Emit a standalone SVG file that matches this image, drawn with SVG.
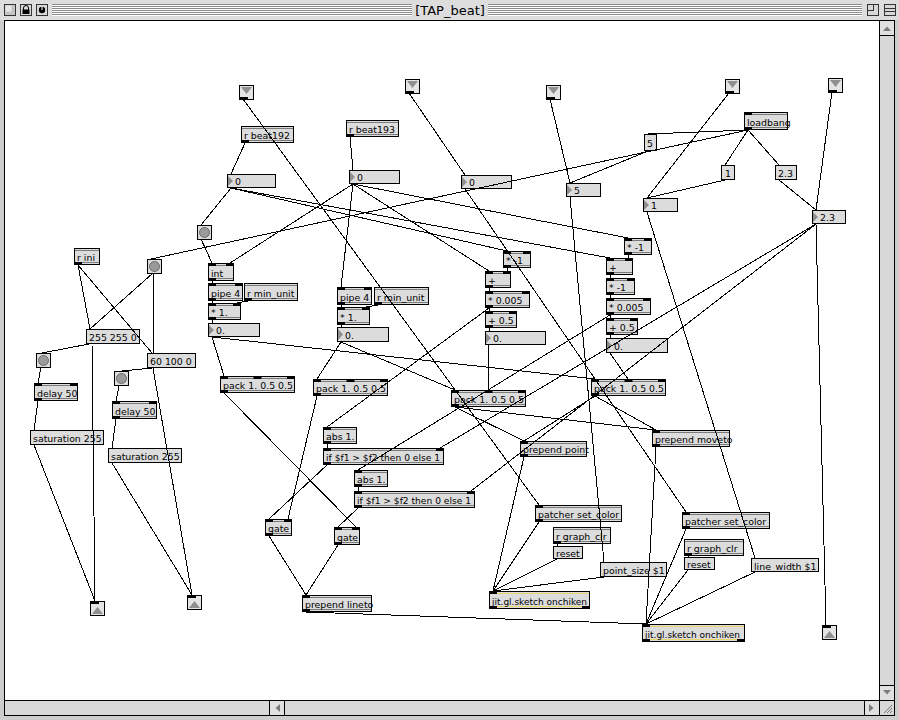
<svg xmlns="http://www.w3.org/2000/svg" width="899" height="720" viewBox="0 0 899 720">
<style>
.b{fill:#dcdcdc;stroke:#000;stroke-width:1}
.ib{fill:#e4e4e4;stroke:#000;stroke-width:1}
.il{stroke:#7a7a7a;stroke-width:1;fill:none}
.jl{stroke:#e8d46c;stroke-width:1;fill:none}
.io{fill:#000}
.tri{fill:#8f8f8f}
.bc{fill:#9a9a9a;stroke:#6a6a6a;stroke-width:1}
.t{font-family:"DejaVu Sans",Verdana,sans-serif;font-size:9.4px;fill:#000}
.w line{stroke:#000;stroke-width:1;shape-rendering:crispEdges}
.st{stroke:#8a8a8a;stroke-width:1}
.sw{stroke:#ffffff;stroke-width:1}
.sb{fill:#d8d8d8;stroke:#000;stroke-width:1}
.ar{fill:#7a7a7a}
</style>
<g id="window">
<rect x="0" y="0" width="899" height="720" fill="#cdcdcd"/>
<rect x="0" y="0" width="899" height="20" fill="#dddddd"/>
<g>
<path class="st" d="M52 4.5H412M52 6.5H412M52 8.5H412M52 10.5H412M52 12.5H412M52 14.5H412M488 4.5H862M488 6.5H862M488 8.5H862M488 10.5H862M488 12.5H862M488 14.5H862"/>
<path class="sw" d="M52 5.5H412M52 7.5H412M52 9.5H412M52 11.5H412M52 13.5H412M52 15.5H412M488 5.5H862M488 7.5H862M488 9.5H862M488 11.5H862M488 13.5H862M488 15.5H862"/>
</g>
<text x="450" y="14.5" text-anchor="middle" font-family="DejaVu Sans, sans-serif" font-size="13px">[TAP_beat]</text>
<rect x="4.5" y="4.5" width="11" height="11" fill="#c4c4c4" stroke="#333"/>
<rect x="5.5" y="5.5" width="6" height="6" fill="#e6e6e6"/>
<rect x="20.5" y="4.5" width="11" height="11" fill="#d8d8d8" stroke="#333"/>
<path d="M23.5 10V8A2.5 2.5 0 0 1 28.5 8V10" fill="none" stroke="#000"/>
<rect x="22.5" y="9.5" width="7" height="4.5" fill="#000"/>
<rect x="36.5" y="4.5" width="11" height="11" fill="#d8d8d8" stroke="#333"/>
<circle cx="42" cy="10" r="3.2" fill="#000"/>
<rect x="41.4" y="6" width="1.2" height="4" fill="#ddd"/>
<rect x="867.5" y="4.5" width="11" height="11" fill="#d8d8d8" stroke="#333"/>
<rect x="867.5" y="4.5" width="6" height="6" fill="none" stroke="#333"/>
<rect x="884.5" y="4.5" width="11" height="11" fill="#d8d8d8" stroke="#333"/>
<path d="M885 8.5H895M885 11.5H895" stroke="#333"/>
<rect x="4.5" y="20.5" width="875" height="680" fill="#ffffff" stroke="#000"/>
<rect class="sb" x="879.5" y="20.5" width="15" height="680"/>
<rect x="879.5" y="20.5" width="15" height="15" fill="#e0e0e0" stroke="#000"/>
<path class="ar" d="M883 31H891L887 26.5Z"/>
<rect x="879.5" y="685.5" width="15" height="15" fill="#e0e0e0" stroke="#000"/>
<path class="ar" d="M883 690H891L887 694.5Z"/>
<rect class="sb" x="4.5" y="700.5" width="875" height="15"/>
<rect x="269.5" y="700.5" width="15" height="15" fill="#e0e0e0" stroke="#000"/>
<path class="ar" d="M280 704V712L275.5 708Z"/>
<rect x="864.5" y="700.5" width="15" height="15" fill="#e0e0e0" stroke="#000"/>
<path class="ar" d="M869 704V712L873.5 708Z"/>
<rect x="879.5" y="700.5" width="15" height="15" fill="#d8d8d8" stroke="#000"/>
<path d="M884 713L892 705M887 713L892 708M890 713L892 711" stroke="#777"/>
</g>
<g id="nodes">
<g id="in1"><rect class="ib" x="239.5" y="85.5" width="14" height="14"/><path class="tri" d="M241 87H252L246.5 94Z"/><rect class="io" x="240" y="97" width="8" height="3"/></g>
<g id="in2"><rect class="ib" x="405.5" y="79.5" width="14" height="14"/><path class="tri" d="M407 81H418L412.5 88Z"/><rect class="io" x="406" y="91" width="8" height="3"/></g>
<g id="in3"><rect class="ib" x="546.5" y="85.5" width="14" height="14"/><path class="tri" d="M548 87H559L553.5 94Z"/><rect class="io" x="547" y="97" width="8" height="3"/></g>
<g id="in4"><rect class="ib" x="725.5" y="79.5" width="14" height="14"/><path class="tri" d="M727 81H738L732.5 88Z"/><rect class="io" x="726" y="91" width="8" height="3"/></g>
<g id="in5"><rect class="ib" x="828.5" y="78.5" width="14" height="14"/><path class="tri" d="M830 80H841L835.5 87Z"/><rect class="io" x="829" y="90" width="8" height="3"/></g>
<g id="out1"><rect class="ib" x="90.5" y="601.5" width="14" height="14"/><path class="tri" d="M92 614H103L97.5 607Z"/><rect class="io" x="91" y="602" width="8" height="2"/></g>
<g id="out2"><rect class="ib" x="187.5" y="595.5" width="14" height="14"/><path class="tri" d="M189 608H200L194.5 601Z"/><rect class="io" x="188" y="596" width="8" height="2"/></g>
<g id="out3"><rect class="ib" x="822.5" y="625.5" width="14" height="14"/><path class="tri" d="M824 638H835L829.5 631Z"/><rect class="io" x="823" y="626" width="8" height="2"/></g>
<g id="btn1"><rect class="b" x="197.5" y="225.5" width="14" height="14"/><circle class="bc" cx="204.5" cy="232.5" r="5"/></g>
<g id="btn2"><rect class="b" x="147.5" y="259.5" width="14" height="14"/><circle class="bc" cx="154.5" cy="266.5" r="5"/></g>
<g id="btn3"><rect class="b" x="36.5" y="353.5" width="14" height="14"/><circle class="bc" cx="43.5" cy="360.5" r="5"/></g>
<g id="btn4"><rect class="b" x="114.5" y="371.5" width="14" height="14"/><circle class="bc" cx="121.5" cy="378.5" r="5"/></g>
<g id="rbeat192"><rect class="b" x="241.5" y="126.5" width="52" height="16"/><path class="il" d="M242 128.5H293M242 140.5H293"/><rect class="io" x="241" y="140" width="8" height="3"/><text class="t" x="244" y="138.5">r beat192</text></g>
<g id="rbeat193"><rect class="b" x="346.5" y="120.5" width="52" height="16"/><path class="il" d="M347 122.5H398M347 134.5H398"/><rect class="io" x="346" y="134" width="8" height="3"/><text class="t" x="349" y="132.5">r beat193</text></g>
<g id="loadbang"><rect class="b" x="744.5" y="112.5" width="43" height="17"/><path class="il" d="M745 114.5H787M745 127.5H787"/><rect class="io" x="744" y="112" width="8" height="3"/><rect class="io" x="744" y="127" width="8" height="3"/><text class="t" x="747" y="125.5">loadbang</text></g>
<g id="rini"><rect class="b" x="74.5" y="248.5" width="25" height="16"/><path class="il" d="M75 250.5H99M75 262.5H99"/><rect class="io" x="74" y="262" width="8" height="3"/><text class="t" x="77" y="260.5">r ini</text></g>
<g id="delayL"><rect class="b" x="34.5" y="383.5" width="43" height="17"/><path class="il" d="M35 385.5H77M35 398.5H77"/><rect class="io" x="34" y="383" width="8" height="3"/><rect class="io" x="70" y="383" width="8" height="3"/><rect class="io" x="34" y="398" width="8" height="3"/><text class="t" x="37" y="396.5">delay 50</text></g>
<g id="delayR"><rect class="b" x="112.5" y="401.5" width="44" height="17"/><path class="il" d="M113 403.5H156M113 416.5H156"/><rect class="io" x="112" y="401" width="8" height="3"/><rect class="io" x="149" y="401" width="8" height="3"/><rect class="io" x="112" y="416" width="8" height="3"/><text class="t" x="115" y="414.5">delay 50</text></g>
<g id="int"><rect class="b" x="208.5" y="263.5" width="25" height="17"/><path class="il" d="M209 265.5H233M209 278.5H233"/><rect class="io" x="208" y="263" width="8" height="3"/><rect class="io" x="226" y="263" width="8" height="3"/><rect class="io" x="208" y="278" width="8" height="3"/><text class="t" x="211" y="276.5">int</text></g>
<g id="pipeL"><rect class="b" x="208.5" y="283.5" width="34" height="17"/><path class="il" d="M209 285.5H242M209 298.5H242"/><rect class="io" x="208" y="283" width="8" height="3"/><rect class="io" x="235" y="283" width="8" height="3"/><rect class="io" x="208" y="298" width="8" height="3"/><text class="t" x="211" y="296.5">pipe 4</text></g>
<g id="rminL"><rect class="b" x="244.5" y="283.5" width="53" height="17"/><path class="il" d="M245 285.5H297M245 298.5H297"/><rect class="io" x="244" y="298" width="8" height="3"/><text class="t" x="247" y="296.5">r min_unit</text></g>
<g id="mulL"><rect class="b" x="208.5" y="303.5" width="32" height="16"/><path class="il" d="M209 305.5H240M209 317.5H240"/><rect class="io" x="208" y="303" width="8" height="3"/><rect class="io" x="233" y="303" width="8" height="3"/><rect class="io" x="208" y="317" width="8" height="3"/><text class="t" x="211" y="315.5">* 1.</text></g>
<g id="pipeR"><rect class="b" x="337.5" y="287.5" width="34" height="17"/><path class="il" d="M338 289.5H371M338 302.5H371"/><rect class="io" x="337" y="287" width="8" height="3"/><rect class="io" x="364" y="287" width="8" height="3"/><rect class="io" x="337" y="302" width="8" height="3"/><text class="t" x="340" y="300.5">pipe 4</text></g>
<g id="rminR"><rect class="b" x="374.5" y="287.5" width="54" height="17"/><path class="il" d="M375 289.5H428M375 302.5H428"/><rect class="io" x="374" y="302" width="8" height="3"/><text class="t" x="377" y="300.5">r min_unit</text></g>
<g id="mulR"><rect class="b" x="337.5" y="307.5" width="32" height="17"/><path class="il" d="M338 309.5H369M338 322.5H369"/><rect class="io" x="337" y="307" width="8" height="3"/><rect class="io" x="362" y="307" width="8" height="3"/><rect class="io" x="337" y="322" width="8" height="3"/><text class="t" x="340" y="320.5">* 1.</text></g>
<g id="packL"><rect class="b" x="220.5" y="376.5" width="74" height="16"/><path class="il" d="M221 378.5H294M221 390.5H294"/><rect class="io" x="220" y="376" width="8" height="3"/><rect class="io" x="253.5" y="376" width="8" height="3"/><rect class="io" x="287" y="376" width="8" height="3"/><rect class="io" x="220" y="390" width="8" height="3"/><text class="t" x="223" y="388.5">pack 1. 0.5 0.5</text></g>
<g id="pack2"><rect class="b" x="313.5" y="379.5" width="74" height="16"/><path class="il" d="M314 381.5H387M314 393.5H387"/><rect class="io" x="313" y="379" width="8" height="3"/><rect class="io" x="346.5" y="379" width="8" height="3"/><rect class="io" x="380" y="379" width="8" height="3"/><rect class="io" x="313" y="393" width="8" height="3"/><text class="t" x="316" y="391.5">pack 1. 0.5 0.5</text></g>
<g id="packC"><rect class="b" x="451.5" y="390.5" width="74" height="16"/><path class="il" d="M452 392.5H525M452 404.5H525"/><rect class="io" x="451" y="390" width="8" height="3"/><rect class="io" x="484.5" y="390" width="8" height="3"/><rect class="io" x="518" y="390" width="8" height="3"/><rect class="io" x="451" y="404" width="8" height="3"/><text class="t" x="454" y="402.5">pack 1. 0.5 0.5</text></g>
<g id="pack4"><rect class="b" x="591.5" y="379.5" width="74" height="16"/><path class="il" d="M592 381.5H665M592 393.5H665"/><rect class="io" x="591" y="379" width="8" height="3"/><rect class="io" x="624.5" y="379" width="8" height="3"/><rect class="io" x="658" y="379" width="8" height="3"/><rect class="io" x="591" y="393" width="8" height="3"/><text class="t" x="594" y="391.5">pack 1. 0.5 0.5</text></g>
<g id="negC"><rect class="b" x="503.5" y="251.5" width="27" height="16"/><path class="il" d="M504 253.5H530M504 265.5H530"/><rect class="io" x="503" y="251" width="8" height="3"/><rect class="io" x="523" y="251" width="8" height="3"/><rect class="io" x="503" y="265" width="8" height="3"/><text class="t" x="506" y="263.5">* -1</text></g>
<g id="addC"><rect class="b" x="485.5" y="271.5" width="25" height="16"/><path class="il" d="M486 273.5H510M486 285.5H510"/><rect class="io" x="485" y="271" width="8" height="3"/><rect class="io" x="503" y="271" width="8" height="3"/><rect class="io" x="485" y="285" width="8" height="3"/><text class="t" x="488" y="283.5">+</text></g>
<g id="scaleC"><rect class="b" x="485.5" y="291.5" width="44" height="16"/><path class="il" d="M486 293.5H529M486 305.5H529"/><rect class="io" x="485" y="291" width="8" height="3"/><rect class="io" x="522" y="291" width="8" height="3"/><rect class="io" x="485" y="305" width="8" height="3"/><text class="t" x="488" y="303.5">* 0.005</text></g>
<g id="offC"><rect class="b" x="485.5" y="311.5" width="31" height="16"/><path class="il" d="M486 313.5H516M486 325.5H516"/><rect class="io" x="485" y="311" width="8" height="3"/><rect class="io" x="509" y="311" width="8" height="3"/><rect class="io" x="485" y="325" width="8" height="3"/><text class="t" x="488" y="323.5">+ 0.5</text></g>
<g id="negR"><rect class="b" x="624.5" y="238.5" width="27" height="16"/><path class="il" d="M625 240.5H651M625 252.5H651"/><rect class="io" x="624" y="238" width="8" height="3"/><rect class="io" x="644" y="238" width="8" height="3"/><rect class="io" x="624" y="252" width="8" height="3"/><text class="t" x="627" y="250.5">* -1</text></g>
<g id="addR"><rect class="b" x="606.5" y="258.5" width="26" height="16"/><path class="il" d="M607 260.5H632M607 272.5H632"/><rect class="io" x="606" y="258" width="8" height="3"/><rect class="io" x="625" y="258" width="8" height="3"/><rect class="io" x="606" y="272" width="8" height="3"/><text class="t" x="609" y="270.5">+</text></g>
<g id="negR2"><rect class="b" x="606.5" y="278.5" width="28" height="16"/><path class="il" d="M607 280.5H634M607 292.5H634"/><rect class="io" x="606" y="278" width="8" height="3"/><rect class="io" x="627" y="278" width="8" height="3"/><rect class="io" x="606" y="292" width="8" height="3"/><text class="t" x="609" y="290.5">* -1</text></g>
<g id="scaleR"><rect class="b" x="606.5" y="298.5" width="44" height="16"/><path class="il" d="M607 300.5H650M607 312.5H650"/><rect class="io" x="606" y="298" width="8" height="3"/><rect class="io" x="643" y="298" width="8" height="3"/><rect class="io" x="606" y="312" width="8" height="3"/><text class="t" x="609" y="310.5">* 0.005</text></g>
<g id="offR"><rect class="b" x="606.5" y="318.5" width="31" height="16"/><path class="il" d="M607 320.5H637M607 332.5H637"/><rect class="io" x="606" y="318" width="8" height="3"/><rect class="io" x="630" y="318" width="8" height="3"/><rect class="io" x="606" y="332" width="8" height="3"/><text class="t" x="609" y="330.5">+ 0.5</text></g>
<g id="moveto"><rect class="b" x="652.5" y="430.5" width="77" height="16"/><path class="il" d="M653 432.5H729M653 444.5H729"/><rect class="io" x="652" y="430" width="8" height="3"/><rect class="io" x="652" y="444" width="8" height="3"/><text class="t" x="655" y="442.5">prepend moveto</text></g>
<g id="ppoint"><rect class="b" x="520.5" y="441.5" width="66" height="15"/><path class="il" d="M521 443.5H586M521 454.5H586"/><rect class="io" x="520" y="441" width="8" height="3"/><rect class="io" x="520" y="454" width="8" height="3"/><text class="t" x="523" y="452.5">prepend point</text></g>
<g id="absA"><rect class="b" x="323.5" y="427.5" width="33" height="16"/><path class="il" d="M324 429.5H356M324 441.5H356"/><rect class="io" x="323" y="427" width="8" height="3"/><rect class="io" x="323" y="441" width="8" height="3"/><text class="t" x="326" y="439.5">abs 1.</text></g>
<g id="ifA"><rect class="b" x="323.5" y="448.5" width="120" height="16"/><path class="il" d="M324 450.5H443M324 462.5H443"/><rect class="io" x="323" y="448" width="8" height="3"/><rect class="io" x="436" y="448" width="8" height="3"/><rect class="io" x="323" y="462" width="8" height="3"/><text class="t" x="326" y="460.5" textLength="114" lengthAdjust="spacingAndGlyphs">if $f1 &gt; $f2 then 0 else 1</text></g>
<g id="absB"><rect class="b" x="354.5" y="470.5" width="33" height="16"/><path class="il" d="M355 472.5H387M355 484.5H387"/><rect class="io" x="354" y="470" width="8" height="3"/><rect class="io" x="354" y="484" width="8" height="3"/><text class="t" x="357" y="482.5">abs 1.</text></g>
<g id="ifB"><rect class="b" x="354.5" y="491.5" width="120" height="16"/><path class="il" d="M355 493.5H474M355 505.5H474"/><rect class="io" x="354" y="491" width="8" height="3"/><rect class="io" x="467" y="491" width="8" height="3"/><rect class="io" x="354" y="505" width="8" height="3"/><text class="t" x="357" y="503.5" textLength="114" lengthAdjust="spacingAndGlyphs">if $f1 &gt; $f2 then 0 else 1</text></g>
<g id="gateL"><rect class="b" x="265.5" y="519.5" width="26" height="16"/><path class="il" d="M266 521.5H291M266 533.5H291"/><rect class="io" x="265" y="519" width="8" height="3"/><rect class="io" x="284" y="519" width="8" height="3"/><rect class="io" x="265" y="533" width="8" height="3"/><text class="t" x="268" y="531.5">gate</text></g>
<g id="gateR"><rect class="b" x="334.5" y="527.5" width="25" height="17"/><path class="il" d="M335 529.5H359M335 542.5H359"/><rect class="io" x="334" y="527" width="8" height="3"/><rect class="io" x="352" y="527" width="8" height="3"/><rect class="io" x="334" y="542" width="8" height="3"/><text class="t" x="337" y="540.5">gate</text></g>
<g id="lineto"><rect class="b" x="302.5" y="595.5" width="69" height="16"/><path class="il" d="M303 597.5H371M303 609.5H371"/><rect class="io" x="302" y="595" width="8" height="3"/><rect class="io" x="302" y="609" width="8" height="3"/><text class="t" x="305" y="607.5">prepend lineto</text></g>
<g id="patchL"><rect class="b" x="535.5" y="505.5" width="86" height="16"/><path class="il" d="M536 507.5H621M536 519.5H621"/><rect class="io" x="535" y="505" width="8" height="3"/><rect class="io" x="535" y="519" width="8" height="3"/><text class="t" x="538" y="517.5">patcher set_color</text></g>
<g id="rgcL"><rect class="b" x="553.5" y="527.5" width="57" height="16"/><path class="il" d="M554 529.5H610M554 541.5H610"/><rect class="io" x="553" y="541" width="8" height="3"/><text class="t" x="556" y="539.5">r graph_clr</text></g>
<g id="jitL"><rect class="b" x="489.5" y="591.5" width="100" height="17"/><path class="jl" d="M490 593.5H589M490 606.5H589"/><rect class="io" x="489" y="591" width="8" height="3"/><rect class="io" x="489" y="606" width="8" height="3"/><rect class="io" x="582" y="606" width="8" height="3"/><text class="t" x="492" y="604.5" textLength="95" lengthAdjust="spacingAndGlyphs">jit.gl.sketch onchiken</text></g>
<g id="patchR"><rect class="b" x="682.5" y="512.5" width="87" height="16"/><path class="il" d="M683 514.5H769M683 526.5H769"/><rect class="io" x="682" y="512" width="8" height="3"/><rect class="io" x="682" y="526" width="8" height="3"/><text class="t" x="685" y="524.5">patcher set_color</text></g>
<g id="rgcR"><rect class="b" x="684.5" y="539.5" width="59" height="16"/><path class="il" d="M685 541.5H743M685 553.5H743"/><rect class="io" x="684" y="553" width="8" height="3"/><text class="t" x="687" y="551.5">r graph_clr</text></g>
<g id="jitR"><rect class="b" x="642.5" y="624.5" width="102" height="17"/><path class="jl" d="M643 626.5H744M643 639.5H744"/><rect class="io" x="642" y="624" width="8" height="3"/><rect class="io" x="642" y="639" width="8" height="3"/><rect class="io" x="737" y="639" width="8" height="3"/><text class="t" x="645" y="637.5" textLength="95" lengthAdjust="spacingAndGlyphs">jit.gl.sketch onchiken</text></g>
<g id="num192"><rect class="b" x="227.5" y="174.5" width="48" height="13"/><path class="tri" d="M228 176L233 181L228 186Z"/><text class="t" x="235" y="185">0</text></g>
<g id="num193"><rect class="b" x="349.5" y="170.5" width="50" height="13"/><path class="tri" d="M350 172L355 177L350 182Z"/><text class="t" x="357" y="181">0</text></g>
<g id="num3"><rect class="b" x="461.5" y="175.5" width="50" height="13"/><path class="tri" d="M462 177L467 182L462 187Z"/><text class="t" x="469" y="186">0</text></g>
<g id="num5"><rect class="b" x="566.5" y="183.5" width="34" height="13"/><path class="tri" d="M567 185L572 190L567 195Z"/><text class="t" x="574" y="194">5</text></g>
<g id="num1"><rect class="b" x="643.5" y="198.5" width="34" height="13"/><path class="tri" d="M644 200L649 205L644 210Z"/><text class="t" x="651" y="209">1</text></g>
<g id="num23"><rect class="b" x="812.5" y="210.5" width="33" height="13"/><path class="tri" d="M813 212L818 217L813 222Z"/><text class="t" x="820" y="221">2.3</text></g>
<g id="num0L"><rect class="b" x="208.5" y="323.5" width="51" height="13"/><path class="tri" d="M209 325L214 330L209 335Z"/><text class="t" x="216" y="334">0.</text></g>
<g id="num0R"><rect class="b" x="337.5" y="327.5" width="51" height="14"/><path class="tri" d="M338 329L343 334.5L338 340Z"/><text class="t" x="345" y="339">0.</text></g>
<g id="num0C"><rect class="b" x="485.5" y="331.5" width="60" height="13"/><path class="tri" d="M486 333L491 338L486 343Z"/><text class="t" x="493" y="342">0.</text></g>
<g id="num0Rc"><rect class="b" x="606.5" y="338.5" width="61" height="14"/><path class="tri" d="M607 340L612 345.5L607 351Z"/><text class="t" x="614" y="350">0.</text></g>
<g id="m5"><rect class="b" x="644.5" y="134.5" width="12" height="16"/><text class="t" x="647" y="147">5</text></g>
<g id="m1"><rect class="b" x="721.5" y="165.5" width="13" height="14"/><text class="t" x="725" y="177">1</text></g>
<g id="m23"><rect class="b" x="775.5" y="165.5" width="21" height="14"/><text class="t" x="778" y="177">2.3</text></g>
<g id="m255"><rect class="b" x="86.5" y="329.5" width="53" height="14"/><text class="t" x="89" y="341">255 255 0</text></g>
<g id="m60"><rect class="b" x="147.5" y="353.5" width="48" height="14"/><text class="t" x="150" y="365">60 100 0</text></g>
<g id="msatL"><rect class="b" x="30.5" y="430.5" width="73" height="14"/><text class="t" x="33" y="442">saturation 255</text></g>
<g id="msatR"><rect class="b" x="108.5" y="448.5" width="73" height="14"/><text class="t" x="111" y="460">saturation 255</text></g>
<g id="mresetL"><rect class="b" x="553.5" y="546.5" width="29" height="12"/><text class="t" x="556" y="556.5">reset</text></g>
<g id="mpsize"><rect class="b" x="600.5" y="562.5" width="66" height="14"/><text class="t" x="603" y="574">point_size $1</text></g>
<g id="mresetR"><rect class="b" x="684.5" y="557.5" width="30" height="12"/><text class="t" x="687" y="567.5">reset</text></g>
<g id="mlwidth"><rect class="b" x="751.5" y="558.5" width="67" height="13"/><text class="t" x="754" y="569.5">line_width $1</text></g>
</g>
<g id="connectors" class="w">
<line x1="243" y1="99" x2="539" y2="505"/>
<line x1="409" y1="93" x2="465" y2="175"/>
<line x1="465" y1="189" x2="686" y2="512"/>
<line x1="550" y1="99" x2="570" y2="183"/>
<line x1="729" y1="93" x2="647" y2="198"/>
<line x1="832" y1="92" x2="816" y2="210"/>
<line x1="245" y1="143" x2="231" y2="174"/>
<line x1="350" y1="137" x2="353" y2="170"/>
<line x1="231" y1="188" x2="201" y2="225"/>
<line x1="231" y1="188" x2="507" y2="251"/>
<line x1="231" y1="188" x2="610" y2="258"/>
<line x1="353" y1="184" x2="230" y2="263"/>
<line x1="353" y1="184" x2="341" y2="287"/>
<line x1="353" y1="184" x2="489" y2="271"/>
<line x1="353" y1="184" x2="628" y2="238"/>
<line x1="201" y1="239" x2="212" y2="263"/>
<line x1="748" y1="130" x2="648" y2="134"/>
<line x1="748" y1="130" x2="725" y2="165"/>
<line x1="748" y1="130" x2="779" y2="165"/>
<line x1="748" y1="130" x2="151" y2="259"/>
<line x1="648" y1="151" x2="570" y2="183"/>
<line x1="725" y1="180" x2="647" y2="198"/>
<line x1="779" y1="180" x2="816" y2="210"/>
<line x1="647" y1="212" x2="755" y2="558"/>
<line x1="816" y1="224" x2="826" y2="625"/>
<line x1="816" y1="224" x2="440" y2="448"/>
<line x1="816" y1="224" x2="471" y2="491"/>
<line x1="570" y1="197" x2="604" y2="562"/>
<line x1="78" y1="265" x2="90" y2="329"/>
<line x1="78" y1="265" x2="152" y2="353"/>
<line x1="153" y1="273" x2="90" y2="329"/>
<line x1="153" y1="273" x2="153" y2="353"/>
<line x1="89" y1="344" x2="42" y2="353"/>
<line x1="92" y1="344" x2="95" y2="601"/>
<line x1="152" y1="368" x2="122" y2="371"/>
<line x1="153" y1="368" x2="192" y2="595"/>
<line x1="41" y1="367" x2="38" y2="383"/>
<line x1="38" y1="401" x2="34" y2="430"/>
<line x1="34" y1="445" x2="95" y2="601"/>
<line x1="119" y1="386" x2="116" y2="401"/>
<line x1="116" y1="419" x2="112" y2="448"/>
<line x1="112" y1="463" x2="192" y2="595"/>
<line x1="212" y1="281" x2="212" y2="283"/>
<line x1="212" y1="301" x2="212" y2="303"/>
<line x1="248" y1="301" x2="237" y2="303"/>
<line x1="212" y1="320" x2="212" y2="323"/>
<line x1="212" y1="337" x2="224" y2="376"/>
<line x1="212" y1="337" x2="595" y2="379"/>
<line x1="341" y1="305" x2="341" y2="307"/>
<line x1="378" y1="305" x2="366" y2="307"/>
<line x1="341" y1="325" x2="341" y2="327"/>
<line x1="341" y1="342" x2="317" y2="379"/>
<line x1="341" y1="342" x2="455" y2="390"/>
<line x1="507" y1="268" x2="507" y2="271"/>
<line x1="489" y1="288" x2="489" y2="291"/>
<line x1="489" y1="308" x2="489" y2="311"/>
<line x1="489" y1="308" x2="327" y2="427"/>
<line x1="489" y1="328" x2="489" y2="331"/>
<line x1="489" y1="345" x2="488" y2="390"/>
<line x1="628" y1="255" x2="629" y2="258"/>
<line x1="610" y1="275" x2="610" y2="278"/>
<line x1="610" y1="295" x2="610" y2="298"/>
<line x1="610" y1="315" x2="610" y2="318"/>
<line x1="610" y1="315" x2="358" y2="470"/>
<line x1="610" y1="335" x2="610" y2="338"/>
<line x1="610" y1="353" x2="628" y2="379"/>
<line x1="224" y1="393" x2="356" y2="527"/>
<line x1="317" y1="396" x2="288" y2="519"/>
<line x1="455" y1="407" x2="524" y2="441"/>
<line x1="455" y1="407" x2="656" y2="430"/>
<line x1="595" y1="396" x2="524" y2="441"/>
<line x1="595" y1="396" x2="656" y2="430"/>
<line x1="327" y1="444" x2="327" y2="448"/>
<line x1="358" y1="487" x2="358" y2="491"/>
<line x1="327" y1="465" x2="269" y2="519"/>
<line x1="358" y1="508" x2="338" y2="527"/>
<line x1="269" y1="536" x2="306" y2="595"/>
<line x1="338" y1="545" x2="306" y2="595"/>
<line x1="306" y1="612" x2="646" y2="624"/>
<line x1="524" y1="457" x2="493" y2="591"/>
<line x1="539" y1="522" x2="493" y2="591"/>
<line x1="557" y1="544" x2="557" y2="546"/>
<line x1="557" y1="559" x2="493" y2="591"/>
<line x1="604" y1="577" x2="493" y2="591"/>
<line x1="656" y1="447" x2="646" y2="624"/>
<line x1="686" y1="529" x2="646" y2="624"/>
<line x1="688" y1="556" x2="688" y2="557"/>
<line x1="688" y1="570" x2="646" y2="624"/>
<line x1="755" y1="572" x2="646" y2="624"/>
</g>
</svg>
